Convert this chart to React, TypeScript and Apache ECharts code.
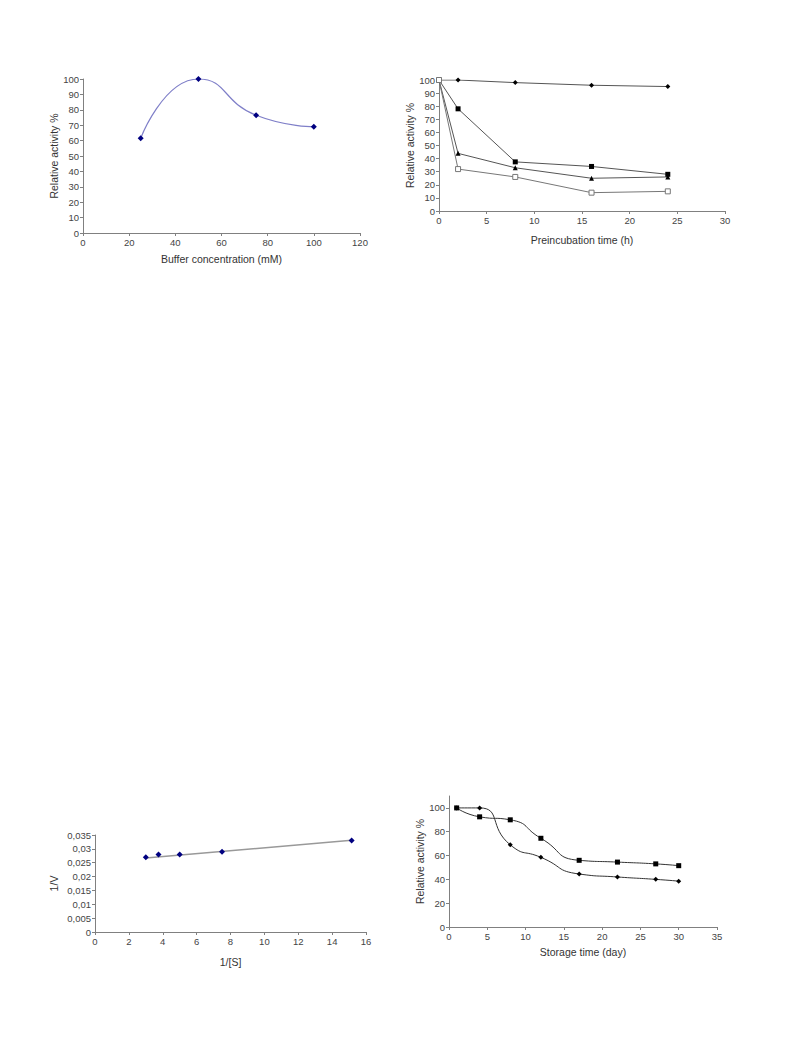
import React, { useEffect, useRef } from "react";
import * as echarts from "echarts";

// Chart 1: buffer concentration
const bufferX = [25, 50, 75, 100];
const bufferY = [61.5, 100, 76.5, 69];

// Chart 2: preincubation time
const preX = [0, 2, 8, 16, 24];
const preA = [100, 100, 98, 96, 95];
const preB = [100, 78, 37.5, 34, 28];
const preC = [100, 44, 33, 25, 26];
const preD = [100, 32, 26, 14, 15];

// Chart 3: Lineweaver-Burk
const lbX = [3, 3.75, 5, 7.5, 15.15];
const lbY = [0.027, 0.028, 0.028, 0.029, 0.033];
const trendX = [3, 15.15];
const trendY = [0.0267, 0.0331];

// Chart 4: storage time
const stX = [1, 4, 8, 12, 17, 22, 27, 30];
const stA = [100, 92.5, 90, 74.5, 56, 54.5, 53, 51.5];
const stB = [100, 100, 69, 58.5, 44.5, 42, 40, 38.5];
const stYTicks = [0, 20, 40, 60, 80, 100];

const FONT = "Liberation Sans, Arial, sans-serif";
const AX = "#808080";
const LBL = "#444";

const zip = (xs: number[], ys: number[]) => xs.map((x, i) => [x, ys[i]]);

function axisBase(extra: any) {
  return {
    type: "value",
    splitLine: { show: false },
    axisLine: { show: true, lineStyle: { color: AX, width: 1 } },
    axisTick: { show: true, length: 3, lineStyle: { color: AX } },
    axisLabel: { color: LBL, fontSize: 9.5, fontFamily: FONT, margin: 4 },
    nameLocation: "middle",
    nameTextStyle: { color: "#333", fontSize: 10.5, fontFamily: FONT },
    ...extra,
  };
}

export default function App() {
  const ref = useRef<HTMLDivElement>(null);
  useEffect(() => {
    if (!ref.current) return;
    const chart = echarts.init(ref.current, null, { renderer: "svg" });
    chart.setOption({
      animation: false,
      backgroundColor: "#fff",
      grid: [
        { left: 83, top: 79, width: 277, height: 154 },
        { left: 439, top: 80, width: 286, height: 131 },
        { left: 95, top: 835, width: 271, height: 97 },
        { left: 449, top: 796, width: 268, height: 131 },
      ],
      xAxis: [
        axisBase({ gridIndex: 0, min: 0, max: 120, interval: 20, name: "Buffer concentration (mM)", nameGap: 20 }),
        axisBase({ gridIndex: 1, min: 0, max: 30, interval: 5, name: "Preincubation time (h)", nameGap: 23 }),
        axisBase({ gridIndex: 2, min: 0, max: 16, interval: 2, name: "1/[S]", nameGap: 24 }),
        axisBase({ gridIndex: 3, min: 0, max: 35, interval: 5, name: "Storage time (day)", nameGap: 19 }),
      ],
      yAxis: [
        axisBase({ gridIndex: 0, min: 0, max: 100, interval: 10, name: "Relative activity %", nameGap: 20 }),
        axisBase({ gridIndex: 1, min: 0, max: 100, interval: 10, name: "Relative activity %", nameGap: 20 }),
        axisBase({
          gridIndex: 2, min: 0, max: 0.035, interval: 0.005, name: "1/V", nameGap: 36,
          axisLabel: {
            color: LBL, fontSize: 9.5, fontFamily: FONT, margin: 4,
            formatter: (v: number) => String(+v.toFixed(3)).replace(".", ","),
          },
        }),
        axisBase({
          gridIndex: 3, min: 0, max: 110, name: "Relative activity %", nameGap: 22,
          axisTick: { show: true, length: 3, lineStyle: { color: AX }, customValues: stYTicks },
          axisLabel: { color: LBL, fontSize: 9.5, fontFamily: FONT, margin: 4, customValues: stYTicks },
        }),
      ],
      series: [
        {
          type: "line", xAxisIndex: 0, yAxisIndex: 0, smooth: 0.55,
          data: zip(bufferX, bufferY),
          lineStyle: { color: "#7f7fc8", width: 1.2 },
          symbol: "diamond", symbolSize: 6,
          itemStyle: { color: "#000080" },
        },
        {
          type: "line", xAxisIndex: 1, yAxisIndex: 1, data: zip(preX, preA),
          lineStyle: { color: "#555", width: 1 }, symbol: "diamond", symbolSize: 5,
          itemStyle: { color: "#000" },
        },
        {
          type: "line", xAxisIndex: 1, yAxisIndex: 1, data: zip(preX, preB),
          lineStyle: { color: "#555", width: 1 }, symbol: "rect", symbolSize: 5,
          itemStyle: { color: "#000" },
        },
        {
          type: "line", xAxisIndex: 1, yAxisIndex: 1, data: zip(preX, preC),
          lineStyle: { color: "#555", width: 1 }, symbol: "triangle", symbolSize: 5,
          itemStyle: { color: "#000" },
        },
        {
          type: "line", xAxisIndex: 1, yAxisIndex: 1, data: zip(preX, preD),
          lineStyle: { color: "#777", width: 1 }, symbol: "rect", symbolSize: 5,
          itemStyle: { color: "#fff", borderColor: "#777", borderWidth: 1 },
        },
        {
          type: "line", xAxisIndex: 2, yAxisIndex: 2, data: zip(trendX, trendY),
          lineStyle: { color: "#999", width: 1.5 }, symbol: "none",
        },
        {
          type: "line", xAxisIndex: 2, yAxisIndex: 2, data: zip(lbX, lbY),
          lineStyle: { width: 0, opacity: 0 }, symbol: "diamond", symbolSize: 6,
          itemStyle: { color: "#000080" },
        },
        {
          type: "line", xAxisIndex: 3, yAxisIndex: 3, smooth: 0.6, data: zip(stX, stA),
          lineStyle: { color: "#333", width: 1 }, symbol: "rect", symbolSize: 5,
          itemStyle: { color: "#000" },
        },
        {
          type: "line", xAxisIndex: 3, yAxisIndex: 3, smooth: 0.6, data: zip(stX, stB),
          lineStyle: { color: "#333", width: 1 }, symbol: "diamond", symbolSize: 5,
          itemStyle: { color: "#000" },
        },
      ],
    });
    return () => chart.dispose();
  }, []);
  return (
    <div
      ref={ref}
      style={{ position: "absolute", left: 0, top: 0, width: 793, height: 1057 }}
    />
  );
}
